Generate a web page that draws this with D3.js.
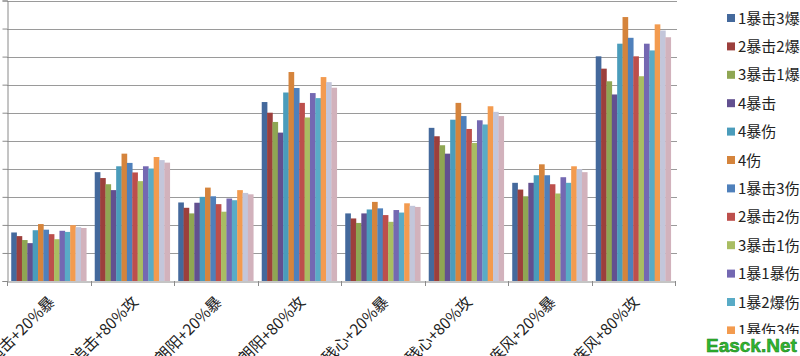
<!DOCTYPE html>
<html><head><meta charset="utf-8">
<script src="https://cdn.jsdelivr.net/npm/d3@7"></script>
<style>
html,body{margin:0;padding:0;background:#fff;overflow:hidden;}
svg{display:block;}
</style></head>
<body><svg id="chart" width="800" height="356"></svg>
<script>
const categories = ["追击+20%暴","追击+80%攻","朗阳+20%暴","朗阳+80%攻","残心+20%暴","残心+80%攻","疾风+20%暴","疾风+80%攻"];
const seriesNames = ["1暴击3爆","2暴击2爆","3暴击1爆","4暴击","4暴伤","4伤","1暴击3伤","2暴击2伤","3暴击1伤","1暴1暴伤","1暴2爆伤","1暴伤3伤","2暴伤2伤","3暴伤1伤"];
const seriesColors = ["#44699c","#9c3f3c","#8fa653","#625090","#4a9cbb","#d5843c","#4f80bb","#bd4f4c","#a9bd62","#7468b2","#59abc6","#f39b4f","#c3c6da","#d2b2bc"];
// values[s][c] : series s, category c
const values = [
  [1.73, 3.88, 2.80, 6.38, 2.41, 5.46, 3.50, 8.01],
  [1.60, 3.67, 2.61, 6.00, 2.23, 5.16, 3.26, 7.57],
  [1.46, 3.45, 2.41, 5.67, 2.07, 4.84, 3.02, 7.12],
  [1.35, 3.24, 2.79, 5.29, 2.41, 4.54, 3.50, 6.65],
  [1.81, 4.09, 3.00, 6.72, 2.55, 5.75, 3.77, 8.46],
  [2.03, 4.54, 3.33, 7.45, 2.82, 6.35, 4.16, 9.41],
  [1.83, 4.21, 3.02, 6.88, 2.59, 5.88, 3.77, 8.67],
  [1.67, 3.87, 2.74, 6.35, 2.35, 5.42, 3.45, 8.01],
  [1.49, 3.56, 2.47, 5.83, 2.11, 4.92, 3.12, 7.30],
  [1.79, 4.09, 2.94, 6.70, 2.53, 5.73, 3.70, 8.46],
  [1.75, 4.01, 2.88, 6.52, 2.44, 5.58, 3.50, 8.22],
  [1.99, 4.42, 3.24, 7.27, 2.77, 6.23, 4.09, 9.15],
  [1.92, 4.31, 3.14, 7.09, 2.68, 6.03, 3.99, 8.93],
  [1.89, 4.22, 3.09, 6.89, 2.64, 5.88, 3.88, 8.69]
];
const yTicks = [0,1,2,3,4,5,6,7,8,9,10];

const svg = d3.select("#chart");
const plotLeft = 7, plotRight = 675, plotTop = 0.5, plotBottom = 281;
const font = "'Noto Sans CJK SC','Noto Sans',sans-serif";

const y = d3.scaleLinear().domain([0,10]).range([plotBottom, plotTop]);
const x0 = d3.scaleBand().domain(categories).range([plotLeft, plotRight]).padding(0);
const x1 = d3.scaleBand().domain(seriesNames).range([0, x0.bandwidth()]).paddingInner(0).paddingOuter(0.79);

// gridlines
svg.append("g").selectAll("line").data(yTicks.filter(t=>t>0)).join("line")
  .attr("x1", plotLeft).attr("x2", plotRight+2)
  .attr("y1", d=>Math.round(y(d))+0.5).attr("y2", d=>Math.round(y(d))+0.5)
  .attr("stroke", "#9a9a9a").attr("stroke-width", 1);

// y axis
const yAxis = svg.append("g").attr("transform", `translate(${plotLeft+0.5},0)`)
  .call(d3.axisLeft(y).tickValues(yTicks).tickSize(5).tickFormat(""));
yAxis.select(".domain").attr("stroke", "#8a8a8a");
yAxis.selectAll(".tick line").attr("stroke", "#8a8a8a");

// bars
const groups = svg.append("g").selectAll("g").data(seriesNames).join("g")
  .attr("fill", (d,i)=>seriesColors[i]);
groups.selectAll("rect").data((d,i)=>values[i].map((v,c)=>({s:d, c:categories[c], v}))).join("rect")
  .attr("x", d=>x0(d.c)+x1(d.s))
  .attr("width", x1.bandwidth()+0.3)
  .attr("y", d=>y(d.v))
  .attr("height", d=>plotBottom - y(d.v));

// x axis
const xAxis = svg.append("g").attr("transform", `translate(0,${plotBottom+0.5})`)
  .call(d3.axisBottom(x0).tickSize(0).tickFormat(""));
xAxis.select(".domain").attr("stroke", "#8a8a8a");
// category boundary ticks
svg.append("g").selectAll("line").data(d3.range(categories.length+1)).join("line")
  .attr("x1", i=>Math.round(plotLeft + i*x0.step())+0.5).attr("x2", i=>Math.round(plotLeft + i*x0.step())+0.5)
  .attr("y1", plotBottom).attr("y2", plotBottom+5).attr("stroke", "#8a8a8a");

// category labels rotated
svg.append("g").selectAll("text").data(categories).join("text")
  .attr("transform", d=>`translate(${x0(d)+x0.bandwidth()/2+7},${plotBottom+22}) rotate(-45)`)
  .attr("text-anchor", "end")
  .attr("font-family", font).attr("font-size", 15.5).attr("fill", "#222")
  .text(d=>d);

// legend
const leg = svg.append("g").selectAll("g").data(seriesNames).join("g")
  .attr("transform", (d,i)=>`translate(727,${18 + i*28.4})`);
leg.append("rect").attr("x",0).attr("y",-4).attr("width",8).attr("height",8)
  .attr("fill",(d,i)=>seriesColors[i]);
leg.append("text").attr("x",11).attr("y",5.5)
  .attr("font-family", font).attr("font-size", 15).attr("fill","#222")
  .text(d=>d);

// watermark
svg.append("rect").attr("x", 703).attr("y", 334).attr("width", 97).attr("height", 22).attr("fill", "#fff");
svg.append("text").attr("x", 706).attr("y", 352)
  .attr("font-family","'Liberation Sans',Arial,sans-serif").attr("font-weight","bold").attr("font-size",19)
  .attr("fill","#2fb82f").attr("stroke","#1d7a1d").attr("stroke-width",0.5)
  .text("Easck.Net");
</script>
</body></html>
